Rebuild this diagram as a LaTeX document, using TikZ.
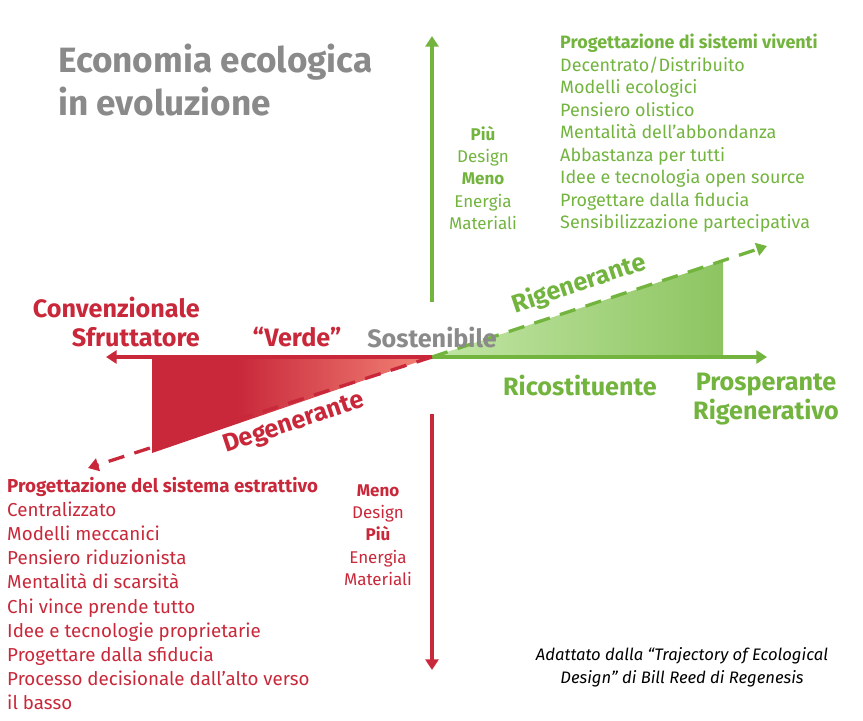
\documentclass[tikz,border=0pt]{standalone}
\usepackage{fontspec}
\setmainfont{Fira Sans}
\usetikzlibrary{arrows.meta}
\definecolor{ecored}{HTML}{C8283A}
\definecolor{ecogreen}{HTML}{72B43E}
\definecolor{ecogray}{HTML}{8A8A8A}
\definecolor{ecosalmon}{HTML}{F78C7C}
\definecolor{ecolight}{HTML}{BEE3A0}
\pgfdeclarehorizontalshading{redfade}{100bp}{color(0bp)=(ecored); color(40bp)=(ecored); color(78bp)=(ecosalmon); color(100bp)=(ecogray!70)}
\pgfdeclarehorizontalshading{greenfade}{100bp}{color(0bp)=(ecolight!70); color(30bp)=(ecolight); color(100bp)=(ecogreen)}
\tikzset{
  axis/.style={line width=2.8pt, -{Triangle[length=9pt,width=11pt]}},
  trend/.style={axis, dash pattern=on 14pt off 9pt},
  listtext/.style={anchor=north west, align=left, font=\fontsize{15.3}{19.2}\selectfont, inner sep=0pt},
  midtext/.style={align=center, font=\fontsize{14.5}{19}\selectfont, inner sep=0pt},
  bigword/.style={font=\fontsize{21.5}{25}\selectfont\bfseries, inner sep=0pt}
}
\begin{document}
\begin{tikzpicture}[x=0.03cm, y=-0.03cm]
    \useasboundingbox (0,0) rectangle (863,720);
    % Axes
    \coordinate (o) at (432,357);
    \coordinate (w) at (106,357);
    \coordinate (e) at (767,357);
    \coordinate (n) at (432,36);
    \coordinate (s) at (432,670);
    \coordinate (nbase) at (432,302);
    \coordinate (sbase) at (432,414);
    % Triangles
    \shade[shading=redfade] (o) -- (152,357) -- (152,453) -- cycle;
    \shade[shading=greenfade] (o) -- (723,357) -- (723,261) -- cycle;
    \draw[axis, ecored] (o) -- (w);
    \draw[axis, ecogreen] (o) -- (e);
    \draw[axis, ecogreen] (nbase) -- (n);
    \draw[axis, ecored] (sbase) -- (s);
    % Trends
    \coordinate (ne) at (767,246);
    \coordinate (sw) at (88,468);
    \draw[trend, ecogreen] (o) -- (ne);
    \draw[trend, ecored] (o) -- (sw);
    \node[bigword, ecogreen, rotate=18.5] (rig) at (579,284) {Rigenerante};
    \node[bigword, ecored, rotate=18.5] (deg) at (294,424) {Degenerante};
    % Title
    \node[anchor=north west, align=left, inner sep=0pt, ecogray, font=\fontsize{30}{36.5}\selectfont\bfseries] (title) at (58,44) {Economia ecologica\\in evoluzione};
    % Axis labels
    \node[bigword, ecored, align=right, anchor=east] (conv) at (200,322) {Convenzionale\\Sfruttatore};
    \node[bigword, ecored] (verde) at (297,337) {“Verde”};
    \node[bigword, ecogray] (sost) at (432,337) {Sostenibile};
    \node[bigword, ecogreen] (ric) at (580,385) {Ricostituente};
    \node[bigword, ecogreen, align=center] (prosp) at (766,399) {Prosperante\\Rigenerativo};
    % Middle notes
    \node[midtext, ecogreen] (piu) at (483,178) {\textbf{Più}\\Design\\\textbf{Meno}\\Energia\\Materiali};
    \node[midtext, ecored] (meno) at (378,535) {\textbf{Meno}\\Design\\\textbf{Più}\\Energia\\Materiali};
    % Lists
    \node[listtext, ecogreen] (viventi) at (560,34) {\textbf{Progettazione di sistemi viventi}\\Decentrato/Distribuito\\Modelli ecologici\\Pensiero olistico\\Mentalità dell’abbondanza\\Abbastanza per tutti\\Idee e tecnologia open source\\Progettare dalla fiducia\\Sensibilizzazione partecipativa};
    \node[listtext, ecored, font=\fontsize{16}{20.6}\selectfont] (estratt) at (7,477) {\textbf{Progettazione del sistema estrattivo}\\Centralizzato\\Modelli meccanici\\Pensiero riduzionista\\Mentalità di scarsità\\Chi vince prende tutto\\Idee e tecnologie proprietarie\\Progettare dalla sfiducia\\Processo decisionale dall’alto verso\\il basso};
    % Credit
    \node[align=center, inner sep=0pt, font=\fontsize{14.2}{19.5}\selectfont\itshape] (credit) at (682,667) {Adattato dalla “Trajectory of Ecological\\Design” di Bill Reed di Regenesis};
\end{tikzpicture}
\end{document}
